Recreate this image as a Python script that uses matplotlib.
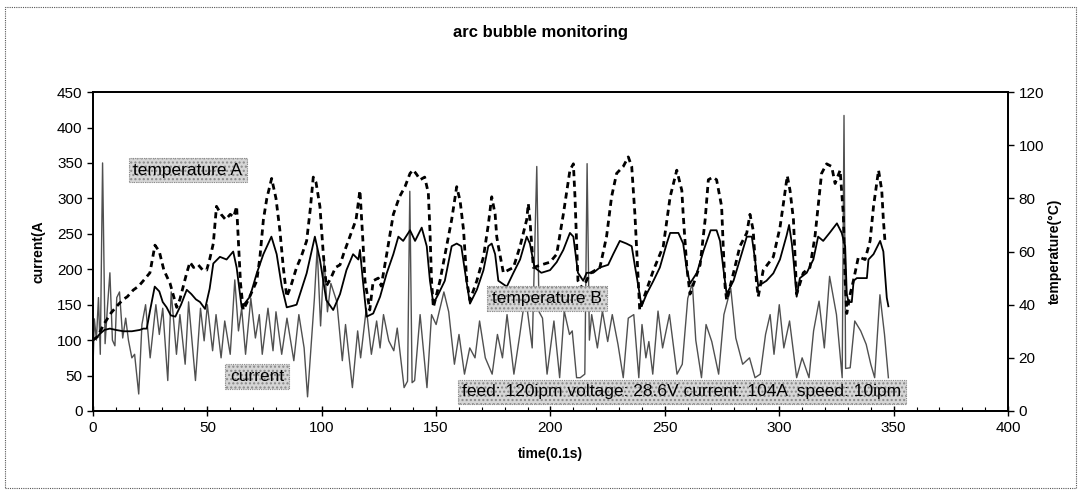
import matplotlib
matplotlib.use("Agg")
import matplotlib.pyplot as plt
from matplotlib.ticker import MultipleLocator
from matplotlib.patches import Rectangle

plt.rcParams['font.family'] = ['Liberation Sans', 'DejaVu Sans']

# welding current (A), sampled at its turning points: time in 0.1 s
current_t = [0, 0.6, 1.5, 2.4, 3.2, 4.2, 5.3, 6.3, 7.4, 8.5, 9.6, 10.4, 11.6, 13, 14.3, 15.5, 17, 18.2, 20,
             21.4, 23, 25, 27.5, 29, 30.5, 32.7, 34.2, 36.5, 38, 40.3, 41.8, 44.8, 47, 48.6, 50, 52.3, 53.8,
             56, 57.6, 60, 62, 63.6, 65, 66.7, 69, 71, 72.7, 74, 76.5, 78.7, 80, 82.5, 84.8, 87.8, 90, 92.3,
             93.8, 96.8, 98, 99.5, 101, 102.5, 104, 106.6, 109, 110.4, 113.4, 115.7, 117, 119.5, 121.7, 124,
             125.5, 127, 129.3, 131.5, 133, 136, 137.5, 138.5, 139.5, 140.6, 143, 146, 148, 150, 153.4, 155.5,
             158, 160, 162.4, 164.7, 167, 169, 171.5, 174.5, 176.8, 179, 181, 184, 186.6, 189, 192, 194, 195,
             196.5, 198.5, 201.5, 204, 206, 208.3, 209.5, 211.4, 213, 215, 216, 217, 218, 220.5, 222.7, 225,
             227, 229.5, 231.8, 234, 236.4, 238.6, 240, 241.7, 243, 244.7, 247, 249, 252, 255.3, 257.6, 260,
             262, 263.5, 266, 268, 270.5, 273.5, 275.8, 278.8, 281, 284, 287, 289.4, 291.7, 294, 296, 297.7,
             300, 302, 304.5, 307.6, 310, 313, 315, 317.4, 319.7, 322, 325, 327.5, 328.3, 329, 331, 333,
             335.6, 338, 340, 341.7, 344, 346, 347.7]
current_a = [60, 130, 100, 160, 80, 350, 95, 145, 195, 100, 92, 160, 168, 103, 131, 100, 75, 80, 24,
             122, 150, 75, 150, 108, 145, 43, 168, 80, 136, 66, 154, 43, 145, 99, 150, 85, 136,
             75, 127, 80, 185, 113, 145, 80, 159, 103, 136, 80, 145, 85, 140, 80, 131, 71, 136, 89,
             20, 159, 230, 120, 215, 140, 180, 154, 71, 122, 33, 113, 75, 145, 80, 127,
             89, 136, 99, 85, 117, 33, 42, 310, 40, 43, 136, 33, 136, 122, 168, 140,
             66, 108, 52, 89, 75, 127, 75, 52, 108, 75, 136, 52, 108, 164, 89, 345, 140,
             131, 52, 127, 47, 141, 108, 113, 47, 47, 52, 349, 100, 136, 89, 141, 98,
             136, 94, 47, 131, 136, 47, 122, 75, 98, 52, 141, 89, 136, 52, 66, 159,
             180, 100, 47, 122, 98, 52, 136, 173, 103, 66, 75, 47, 52, 108, 136, 80,
             150, 89, 127, 47, 75, 47, 113, 155, 89, 190, 136, 47, 417, 60, 61, 127,
             113, 94, 66, 47, 164, 108, 47]

# temperature A (deg C)
temp_a_t = [0, 2, 5, 8, 11, 13.3, 15, 17.6, 20, 22, 24.9, 27.1, 29, 31, 33.7, 36.6, 38, 41, 42.4, 44, 46, 48,
            49.7, 51, 52.6, 54, 56, 58, 60, 61.5, 62.8, 63.5, 64.5, 65.7, 68, 71.6, 73, 74.5, 76, 78.1, 80,
            81.7, 83.2, 84.7, 86.5, 89, 91, 93.4, 95, 96.3, 97.5, 99.2, 100.7, 102, 104, 106, 108, 109.5,
            112.3, 115, 116.7, 118, 118.9, 121, 122.5, 124.7, 126, 128.4, 131.3, 134, 136.4, 138.6, 140,
            141.5, 143, 145, 146.6, 147.3, 148, 148.8, 151.7, 154.6, 156.8, 159, 160.5, 162, 163.4, 164.8,
            167.8, 170.7, 172.8, 174.3, 175.8, 176.5, 177.2, 179.4, 181.5, 183.8, 186.7, 189.6, 190.3, 191,
            192.5, 196, 199.8, 202.7, 205.6, 208.5, 210, 210.7, 211.4, 212, 214, 217.3, 221.6, 224.5, 226.7,
            228.9, 231.8, 234, 235.5, 236.9, 237.6, 238.4, 239, 242, 245, 249.3, 252.3, 255.2, 257.4, 258,
            259.6, 261, 265.4, 267.6, 269, 271, 272.6, 274.8, 275.5, 276.3, 277, 280, 282.8, 285.8, 287.2,
            288.6, 290, 290.8, 293, 297.4, 300.3, 301.8, 303.5, 304.7, 306.2, 306.9, 307.6, 310.5, 313.4,
            315.6, 317, 318.5, 320.7, 322.9, 324.4, 326.6, 328, 328.8, 329.5, 331, 332.4, 334.6, 337.5,
            339.7, 341.2, 343.4, 344.8, 345.5, 346.2]
temp_a_c = [26.7, 28, 33, 37, 40, 42, 43, 45.5, 47, 49, 52, 62.4, 60, 53, 48, 39, 42, 52, 56, 54, 55, 53,
            53, 57, 63, 77, 74, 72, 74, 73, 77, 65, 48, 38, 42, 49, 58, 72, 80, 87.5, 80,
            68, 54, 43, 47, 54, 58, 64, 76, 88, 86, 77, 59, 47, 50, 54, 55, 59,
            65.6, 72, 83, 64, 49, 38, 49, 50, 47, 59, 74, 80.6, 84.4, 89.4, 90.7,
            89, 87, 88, 82, 68, 49, 39, 49, 62, 72, 84.4, 79, 68, 49, 41.7,
            49, 58, 70, 80.6, 74, 65.6, 62, 52, 53, 54, 62, 72, 78, 72,
            54, 55, 56, 59, 74, 90.6, 93, 80.6, 64, 49, 46, 51.8, 54, 65.6, 80.6,
            89.4, 92, 95.6, 92, 74, 62, 49, 38, 45.6, 53, 62, 80.6, 90.6, 83, 74,
            54, 44, 55, 72, 87, 88, 87, 77, 62, 47, 41.7, 52, 62, 67, 74,
            68, 49, 43, 53, 58, 69, 78, 88.5, 83, 72, 58, 44, 52, 54,
            65.6, 77, 89.4, 93, 92, 85.6, 90.6, 74, 49, 36.7, 44, 49, 58, 57,
            64, 77, 90.6, 83, 72, 64]

# temperature B (deg C)
temp_b_t = [0, 1.5, 3, 5, 7.4, 10, 13.3, 17, 20.5, 22, 23.5, 25, 27, 29, 30.5, 32.2, 34, 36, 38.5, 41, 43, 45,
            46.8, 49, 51, 52.6, 55.5, 58.4, 61.3, 62.8, 65, 68.6, 71.6, 74.5, 78, 80.3, 82.5, 84.7, 87, 89,
            93.4, 97, 99.2, 102, 105, 108, 110.8, 113.7, 116, 116.7, 118, 119.6, 122.5, 125.5, 128.4, 131.3,
            133.5, 135.6, 138.6, 140.8, 143.7, 145.9, 147.3, 148.8, 151, 153.8, 156.8, 159, 161, 162.7, 164.8,
            167.8, 170.7, 172.8, 174.3, 175.8, 177.2, 180.9, 183.8, 186.7, 189.6, 191, 193, 196, 199.8, 202.7,
            205.6, 208.5, 210, 212, 214.3, 215.8, 218.7, 221.6, 225.2, 227.4, 230.3, 233.2, 235.5, 237, 238.4,
            239.8, 242, 245, 247.8, 250.8, 252.3, 255.9, 258, 259.6, 261, 264, 267, 270, 272.6, 274.1, 275.5,
            277, 280, 282.8, 285.8, 288, 289.4, 290.8, 294.4, 297.4, 300.3, 303.2, 304.3, 305.5, 306.2, 307.6,
            309, 312, 314.9, 317, 319.2, 322, 325.2, 327.3, 328.8, 329.5, 330.3, 331.7, 332.5, 333.9, 338.3,
            339, 341.2, 344.1, 345.5, 347, 347.7]
temp_b_c = [26.7, 27.5, 29, 30.5, 31, 30.5, 30, 30, 30.5, 31, 31, 38, 46.8, 45, 41, 39, 36, 35.5, 40, 45.6, 44, 42,
            41, 38.4, 46, 55.5, 58, 57, 60, 54, 39, 43, 51.8, 59, 65.6, 59, 47, 39, 39.5, 40,
            51.8, 65.6, 57, 41.7, 38, 44, 53, 59, 57, 60.6, 49, 35.5, 36.7, 43, 51.8, 59,
            65.6, 64, 68, 64, 69, 62, 49, 40.4, 44, 49, 62, 63, 62, 52, 40.4,
            45.6, 53, 62, 63, 59, 49, 46.8, 52, 57, 65.6, 63, 54, 52, 53, 56,
            60.6, 67, 65.6, 52, 49, 52, 52, 54, 55, 59, 64, 63, 62, 54, 47,
            39.4, 44, 49, 54, 63, 67, 67, 63, 53, 48, 52, 60.6, 68, 68, 64, 54,
            44, 49, 57, 65.6, 65.6, 57, 47, 49, 51.8, 57, 66, 70, 63, 57, 43,
            50, 52, 57, 65.6, 64, 67, 70.6, 67, 62, 44, 41, 41, 49, 50, 50,
            57, 59, 64, 60, 42.6, 39.4]

x_ticks = [0, 50, 100, 150, 200, 250, 300, 350, 400]
current_ticks = [0, 50, 100, 150, 200, 250, 300, 350, 400, 450]
temp_ticks = [0, 20, 40, 60, 80, 100, 120]

fig = plt.figure(figsize=(10.81, 4.95), dpi=100)
fig.patches.append(Rectangle((0.005, 0.014), 0.99, 0.972, transform=fig.transFigure,
                             fill=False, ec='#555555', lw=0.8, ls=(0, (1, 1))))

ax = fig.add_axes([0.086, 0.1697, 0.8465, 0.6443])
ax2 = ax.twinx()

ax.plot(current_t, current_a, color='#505050', lw=1.0, zorder=2)
ax2.plot(temp_b_t, temp_b_c, color='black', lw=1.3, zorder=3)
ax2.plot(temp_a_t, temp_a_c, color='black', lw=2.0, ls=(0, (2.2, 1.6)), zorder=4)

ax.set_xlim(0, 400)
ax.set_ylim(0, 450)
ax2.set_ylim(0, 120)
ax.set_xticks(x_ticks)
ax.set_yticks(current_ticks)
ax2.set_yticks(temp_ticks)
ax.xaxis.set_minor_locator(MultipleLocator(10))

ax.tick_params(axis='x', which='major', direction='inout', length=7, width=1, labelsize=11, pad=4)
ax.tick_params(axis='x', which='minor', direction='in', length=3, width=0.8)
ax.tick_params(axis='y', direction='out', length=4, width=1, labelsize=11)
ax2.tick_params(axis='y', direction='out', length=4, width=1, labelsize=11)

for a in (ax, ax2):
    for s in a.spines.values():
        s.set_linewidth(1.3)
        s.set_color('black')

ax.set_xlabel('time(0.1s)', fontsize=10, fontweight='bold', labelpad=8)
ax.set_ylabel('current(A', fontsize=10, fontweight='bold', labelpad=8)
ax2.set_ylabel('temperature(\u00b0C)', fontsize=10, fontweight='bold', labelpad=3)

fig.text(0.5, 0.935, 'arc bubble monitoring', ha='center', va='center', fontsize=12, fontweight='bold')

box = dict(boxstyle='square,pad=0.28', fc='#d6d6d6', ec='#8a8a8a', lw=0.8, ls=(0, (1, 1)), hatch='....')
labels = [('temperature A', 41.5, 340), ('current', 71.7, 49), ('temperature B', 198.5, 159),
          ('feed: 120ipm voltage: 28.6V current: 104A  speed: 10ipm', 257.5, 27)]
for txt, tx, ty in labels:
    ax2.text(tx, ty, txt, transform=ax.transData, ha='center', va='center', fontsize=12.5,
             bbox=box, zorder=6)

fig.savefig('out.png', dpi=100)
